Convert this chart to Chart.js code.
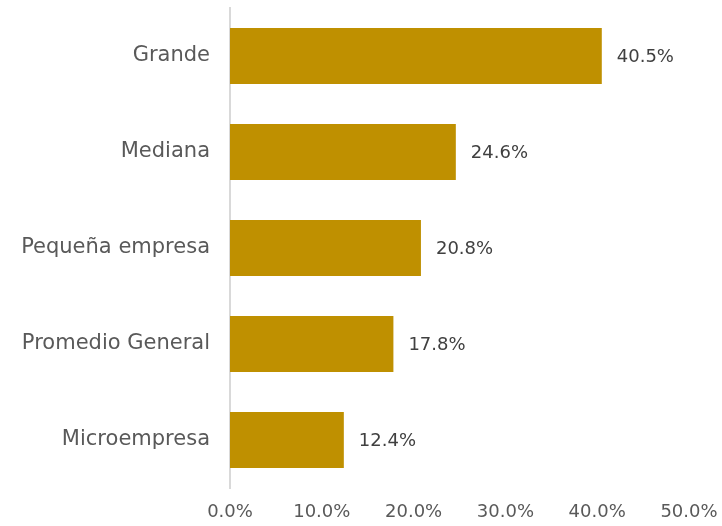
<!DOCTYPE html>
<html>
<head>
<meta charset="utf-8">
<script src="https://cdn.jsdelivr.net/npm/chart.js@4"></script>
<style>
  html, body { margin: 0; padding: 0; background: #fff; }
  #wrap { width: 722px; height: 526px; }
</style>
</head>
<body>
<div id="wrap"><canvas id="grafica"></canvas></div>
<script>
// datos
const categorias = ['Grande', 'Mediana', 'Pequeña empresa', 'Promedio General', 'Microempresa'];
const valores = [40.5, 24.6, 20.8, 17.8, 12.4];
const ticksX = [0, 10, 20, 30, 40, 50];

const fuente = "'DejaVu Sans', sans-serif";

// etiquetas al final de cada barra
const etiquetas = {
    id: 'etiquetas',
    afterDatasetsDraw(chart) {
        const ctx = chart.ctx;
        const meta = chart.getDatasetMeta(0);
        ctx.save();
        ctx.font = '18px ' + fuente;
        ctx.fillStyle = '#404040';
        ctx.textAlign = 'left';
        ctx.textBaseline = 'middle';
        meta.data.forEach((bar, i) => {
            ctx.fillText(valores[i].toFixed(1) + '%', bar.x + 15, bar.y + 1);
        });
        ctx.restore();
    }
};

new Chart(document.getElementById('grafica').getContext('2d'), {
    type: 'bar',
    data: {
        labels: categorias,
        datasets: [{
            data: valores,
            backgroundColor: '#BF9000',
            borderWidth: 0,
            barPercentage: 0.585,
            categoryPercentage: 1
        }]
    },
    options: {
        indexAxis: 'y',
        responsive: true,
        maintainAspectRatio: false,
        animation: false,
        layout: { padding: { top: 8, right: 33, left: 0, bottom: 0 } },
        plugins: { legend: { display: false }, tooltip: { enabled: false } },
        scales: {
            x: {
                min: 0,
                max: 50,
                afterBuildTicks: (s) => { s.ticks = ticksX.map(v => ({ value: v })); },
                afterFit: (s) => { s.height = 38; s.paddingLeft = 0; s.paddingRight = 0; },
                grid: { display: false, drawTicks: false },
                border: { display: false },
                ticks: {
                    padding: 14,
                    color: '#595959',
                    font: { family: fuente, size: 18 },
                    callback: (v) => Number(v).toFixed(1) + '%'
                }
            },
            y: {
                afterFit: (s) => { s.width = 230; s.paddingTop = 0; s.paddingBottom = 0; },
                grid: { display: false, drawTicks: false },
                border: { display: true, color: '#D9D9D9', width: 2 },
                ticks: {
                    padding: 20,
                    color: '#595959',
                    font: { family: fuente, size: 21 }
                }
            }
        }
    },
    plugins: [etiquetas]
});
</script>
</body>
</html>
